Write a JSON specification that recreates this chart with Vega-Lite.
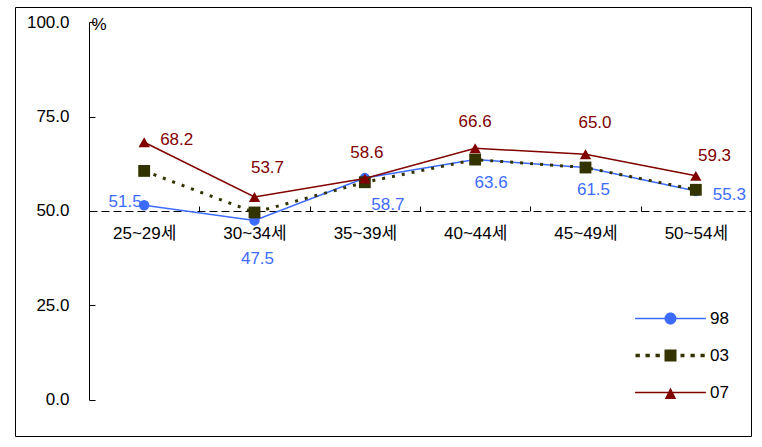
{
  "$schema": "https://vega.github.io/schema/vega-lite/v6.json",
  "width": 736,
  "height": 429,
  "autosize": {"type": "none"},
  "padding": {"left": 15, "top": 7, "right": 11, "bottom": 11},
  "background": "#ffffff",
  "config": {
    "view": {"stroke": "#000000", "strokeWidth": 1},
    "font": "Liberation Sans, Noto Sans CJK KR",
    "text": {"font": "Liberation Sans, Noto Sans CJK KR", "fontSize": 17}
  },
  "data": {
    "values": [
      {"age": "25~29세", "s": "98", "v": 51.5},
      {"age": "30~34세", "s": "98", "v": 47.5},
      {"age": "35~39세", "s": "98", "v": 58.7},
      {"age": "40~44세", "s": "98", "v": 63.6},
      {"age": "45~49세", "s": "98", "v": 61.5},
      {"age": "50~54세", "s": "98", "v": 55.3},
      {"age": "25~29세", "s": "03", "v": 60.6},
      {"age": "30~34세", "s": "03", "v": 49.6},
      {"age": "35~39세", "s": "03", "v": 57.6},
      {"age": "40~44세", "s": "03", "v": 63.6},
      {"age": "45~49세", "s": "03", "v": 61.5},
      {"age": "50~54세", "s": "03", "v": 55.6},
      {"age": "25~29세", "s": "07", "v": 68.2},
      {"age": "30~34세", "s": "07", "v": 53.7},
      {"age": "35~39세", "s": "07", "v": 58.6},
      {"age": "40~44세", "s": "07", "v": 66.6},
      {"age": "45~49세", "s": "07", "v": 65.0},
      {"age": "50~54세", "s": "07", "v": 59.3}
    ]
  },
  "encoding": {
    "x": {
      "field": "age",
      "type": "nominal",
      "sort": null,
      "scale": {"type": "band", "range": [74, 736], "paddingInner": 0, "paddingOuter": 0},
      "axis": {
        "title": null,
        "orient": "bottom",
        "offset": -225,
        "domainColor": "#000000",
        "domainDash": [8, 4],
        "domainWidth": 1,
        "tickBand": "extent",
        "tickSize": -5,
        "tickColor": "#000000",
        "labelAngle": 0,
        "labelFontSize": 17,
        "labelColor": "#000000",
        "labelPadding": 19
      }
    },
    "y": {
      "field": "v",
      "type": "quantitative",
      "scale": {"domain": [0, 100], "range": [392.8, 15.1], "nice": false, "zero": false},
      "axis": {
        "title": "%",
        "orient": "left",
        "offset": -74,
        "values": [0, 25, 50, 75, 100],
        "format": ".1f",
        "grid": false,
        "domainColor": "#000000",
        "tickColor": "#000000",
        "tickSize": -6,
        "labelFontSize": 17,
        "labelColor": "#000000",
        "labelPadding": 26,
        "titleAngle": 0,
        "titleX": 2,
        "titleY": 17,
        "titleAlign": "left",
        "titleBaseline": "middle",
        "titleFontSize": 17,
        "titleFontWeight": "normal",
        "titleColor": "#000000"
      }
    }
  },
  "resolve": {"scale": {"shape": "independent", "fill": "independent"}},
  "layer": [
    {
      "transform": [{"filter": "datum.s == '98'"}],
      "mark": {"type": "line", "strokeWidth": 1.5, "point": {"shape": "circle", "size": 110, "filled": true, "opacity": 1}},
      "encoding": {"color": {"field": "s", "type": "nominal", "scale": {"range": ["#333300", "#800000", "#3d6bff"]}, "legend": null}}
    },
    {
      "transform": [{"filter": "datum.s == '03'"}],
      "mark": {"type": "line", "strokeWidth": 3, "strokeDash": [3, 7], "point": {"shape": "square", "size": 140, "filled": true, "opacity": 1}},
      "encoding": {"color": {"field": "s", "type": "nominal", "legend": null}}
    },
    {
      "transform": [{"filter": "datum.s == '07'"}],
      "mark": {"type": "line", "strokeWidth": 1.5, "point": {"shape": "triangle-up", "size": 130, "filled": true, "opacity": 1}},
      "encoding": {"color": {"field": "s", "type": "nominal", "legend": null}}
    },
    {
      "transform": [{"filter": "false"}],
      "mark": {"type": "point", "filled": true, "opacity": 1, "size": 144, "strokeWidth": 0},
      "encoding": {
        "fill": {
          "field": "s",
          "type": "nominal",
          "scale": {"domain": ["98", "03", "07"], "range": ["#3d6bff", "#333300", "#800000"]},
          "legend": {"orient": "none", "legendX": 647, "legendY": 303, "title": null, "labelFontSize": 17, "labelColor": "#000000", "labelOffset": 31, "rowPadding": 19, "symbolSize": 144, "padding": 0, "symbolStrokeWidth": 0, "symbolOpacity": 1}
        },
        "shape": {
          "field": "s",
          "type": "nominal",
          "scale": {
            "domain": ["98", "03", "07"],
            "range": [
              "M-5.9,-0.13 L5.9,-0.13 L5.9,0.13 L-5.9,0.13 Z M-1,0 A1,1 0 1,1 1,0 A1,1 0 1,1 -1,0 Z",
              "M-5.83,-0.28 L-5.11,-0.28 L-5.11,0.28 L-5.83,0.28 Z M-4.17,-0.28 L-3.45,-0.28 L-3.45,0.28 L-4.17,0.28 Z M-2.5,-0.28 L-1.78,-0.28 L-1.78,0.28 L-2.5,0.28 Z M-1,-1 L1,-1 L1,1 L-1,1 Z M1.67,-0.28 L2.33,-0.28 L2.33,0.28 L1.67,0.28 Z M3.33,-0.28 L4.05,-0.28 L4.05,0.28 L3.33,0.28 Z M5,-0.28 L5.7,-0.28 L5.7,0.28 L5,0.28 Z",
              "M-5.9,-0.13 L5.9,-0.13 L5.9,0.13 L-5.9,0.13 Z M0,-0.85 L0.95,1.1 L-0.95,1.1 Z"
            ]
          },
          "legend": {"orient": "none", "legendX": 647, "legendY": 303, "title": null, "labelFontSize": 17, "labelColor": "#000000", "labelOffset": 31, "rowPadding": 19, "symbolSize": 144, "padding": 0, "symbolStrokeWidth": 0, "symbolOpacity": 1}
        }
      }
    },
    {
      "encoding": {
        "text": {"field": "v", "type": "quantitative", "format": ".1f"},
        "color": {"field": "s", "type": "nominal", "legend": null}
      },
      "layer": [
        {"transform": [{"filter": "datum.s == '07' && datum.age == '25~29세'"}], "mark": {"type": "text", "align": "left", "dx": 16, "dy": -2}},
        {"transform": [{"filter": "datum.s == '07' && datum.age == '30~34세'"}], "mark": {"type": "text", "dx": 13, "dy": -28.5}},
        {"transform": [{"filter": "datum.s == '07' && datum.age == '35~39세'"}], "mark": {"type": "text", "dx": 2, "dy": -25}},
        {"transform": [{"filter": "datum.s == '07' && datum.age == '40~44세'"}], "mark": {"type": "text", "dx": 0, "dy": -26.5}},
        {"transform": [{"filter": "datum.s == '07' && datum.age == '45~49세'"}], "mark": {"type": "text", "dx": 9.5, "dy": -31.5}},
        {"transform": [{"filter": "datum.s == '07' && datum.age == '50~54세'"}], "mark": {"type": "text", "dx": 18.7, "dy": -20}},
        {"transform": [{"filter": "datum.s == '98' && datum.age == '25~29세'"}], "mark": {"type": "text", "align": "right", "dx": -2.5, "dy": -3.5}},
        {"transform": [{"filter": "datum.s == '98' && datum.age == '30~34세'"}], "mark": {"type": "text", "dx": 3, "dy": 39}},
        {"transform": [{"filter": "datum.s == '98' && datum.age == '35~39세'"}], "mark": {"type": "text", "dx": 23, "dy": 27}},
        {"transform": [{"filter": "datum.s == '98' && datum.age == '40~44세'"}], "mark": {"type": "text", "dx": 16, "dy": 23}},
        {"transform": [{"filter": "datum.s == '98' && datum.age == '45~49세'"}], "mark": {"type": "text", "dx": 8, "dy": 22.7}},
        {"transform": [{"filter": "datum.s == '98' && datum.age == '50~54세'"}], "mark": {"type": "text", "align": "left", "dx": 17, "dy": 4}}
      ]
    }
  ]
}
